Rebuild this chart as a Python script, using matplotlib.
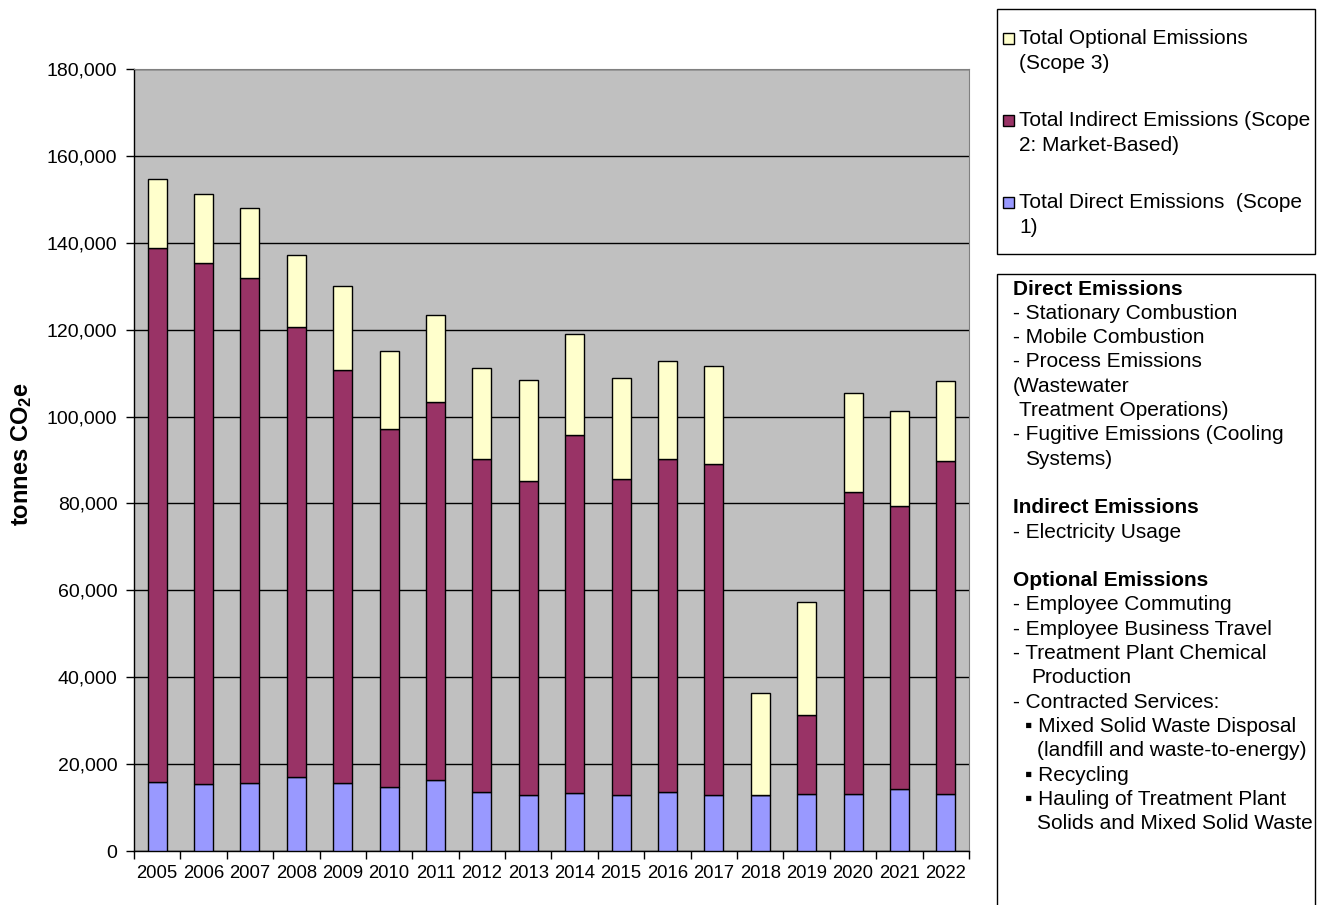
import matplotlib.pyplot as plt
from matplotlib.patches import Rectangle
import numpy as np

plt.rcParams['font.family'] = ['Liberation Sans', 'DejaVu Sans']
plt.rcParams['mathtext.default'] = 'regular'

years = [str(y) for y in range(2005, 2023)]

# tonnes CO2e per scope, stacked bottom to top
direct = [15950, 15350, 15650, 17030, 15650, 14660, 16340, 13580, 12820,
          13280, 12890, 13580, 12890, 12890, 13190, 13190, 14200, 13190]
indirect = [122780, 119930, 116170, 103660, 95070, 82480, 87010, 76650, 72350,
            82400, 72740, 76650, 76260, 0, 18110, 69370, 65280, 76650]
optional = [15880, 15950, 16260, 16570, 19330, 17950, 20100, 20950, 23240,
            23250, 23240, 22480, 22490, 23480, 25940, 22860, 21800, 18270]

series_labels = ["Total Optional Emissions\n(Scope 3)",
                 "Total Indirect Emissions (Scope\n2: Market-Based)",
                 "Total Direct Emissions  (Scope\n1)"]
colors = ["#FFFFCC", "#993366", "#9999FF"]

fig = plt.figure(figsize=(13.17, 9.05), dpi=100)
ax = fig.add_axes([134 / 1317, 54 / 905, 835 / 1317, 782 / 905])
ax.set_facecolor("#C0C0C0")

x = np.arange(len(years))
w = 0.41
d = np.array(direct)
i = np.array(indirect)
o = np.array(optional)
ax.bar(x, d, w, color=colors[2], edgecolor="black", linewidth=1, zorder=3)
ax.bar(x, i, w, bottom=d, color=colors[1], edgecolor="black", linewidth=1, zorder=3)
ax.bar(x, o, w, bottom=d + i, color=colors[0], edgecolor="black", linewidth=1, zorder=3)

ax.set_ylim(0, 180000)
ax.set_xlim(-0.5, len(years) - 0.5)
ax.set_yticks(np.arange(0, 180001, 20000))
ax.set_yticklabels([f"{v:,}" for v in range(0, 180001, 20000)])
ax.yaxis.grid(True, color="black", linewidth=1, zorder=1)
ax.set_axisbelow(True)

ax.set_xticks(x)
ax.set_xticklabels(years)
ax.set_xticks(np.arange(-0.5, len(years)), minor=True)
ax.tick_params(axis="x", which="major", length=0, pad=10, labelsize=13.3)
ax.tick_params(axis="x", which="minor", length=6, width=1, direction="out")
ax.tick_params(axis="y", length=6, width=1, labelsize=14, pad=6)

for s in ["top", "right"]:
    ax.spines[s].set_color("#808080")
    ax.spines[s].set_linewidth(0.8)
for s in ["left", "bottom"]:
    ax.spines[s].set_color("black")
    ax.spines[s].set_linewidth(1)

fig.text(22 / 1317, 1 - 454 / 905, r"tonnes CO$_2$e", rotation=90,
         fontsize=17, fontweight="bold", ha="center", va="center")

# legend box
fig.patches.append(Rectangle((997 / 1317, 1 - 254 / 905), 318 / 1317, 245 / 905,
                             transform=fig.transFigure, facecolor="white",
                             edgecolor="black", linewidth=1))
for k, (lab, col) in enumerate(zip(series_labels, colors)):
    ytop = 39 + k * 82
    fig.patches.append(Rectangle((1003 / 1317, 1 - (ytop + 5.5) / 905), 11 / 1317, 11 / 905,
                                 transform=fig.transFigure, facecolor=col,
                                 edgecolor="black", linewidth=1))
    first, second = lab.split("\n")
    fig.text(1019 / 1317, 1 - ytop / 905, first, fontsize=15, va="center")
    fig.text(1019 / 1317, 1 - (ytop + 24.5) / 905, second, fontsize=15, va="center")

# emission source notes box
fig.patches.append(Rectangle((997 / 1317, -0.01), 318 / 1317, 1 - 274 / 905 + 0.01,
                             transform=fig.transFigure, facecolor="white",
                             edgecolor="black", linewidth=1))
notes = [
    ("Direct Emissions", 1013, True),
    ("- Stationary Combustion", 1013, False),
    ("- Mobile Combustion", 1013, False),
    ("- Process Emissions", 1013, False),
    ("(Wastewater", 1013, False),
    ("Treatment Operations)", 1019, False),
    ("- Fugitive Emissions (Cooling", 1013, False),
    ("Systems)", 1025, False),
    ("", 1013, False),
    ("Indirect Emissions", 1013, True),
    ("- Electricity Usage", 1013, False),
    ("", 1013, False),
    ("Optional Emissions", 1013, True),
    ("- Employee Commuting", 1013, False),
    ("- Employee Business Travel", 1013, False),
    ("- Treatment Plant Chemical", 1013, False),
    ("Production", 1031, False),
    ("- Contracted Services:", 1013, False),
    ("\u25aa Mixed Solid Waste Disposal", 1025, False),
    ("(landfill and waste-to-energy)", 1037, False),
    ("\u25aa Recycling", 1025, False),
    ("\u25aa Hauling of Treatment Plant", 1025, False),
    ("Solids and Mixed Solid Waste", 1037, False),
]
for n, (txt, xp, bold) in enumerate(notes):
    yp = 289 + n * 24.3
    fig.text(xp / 1317, 1 - yp / 905, txt, fontsize=15, va="center",
             fontweight="bold" if bold else "normal")

fig.savefig("out.png", dpi=100)
